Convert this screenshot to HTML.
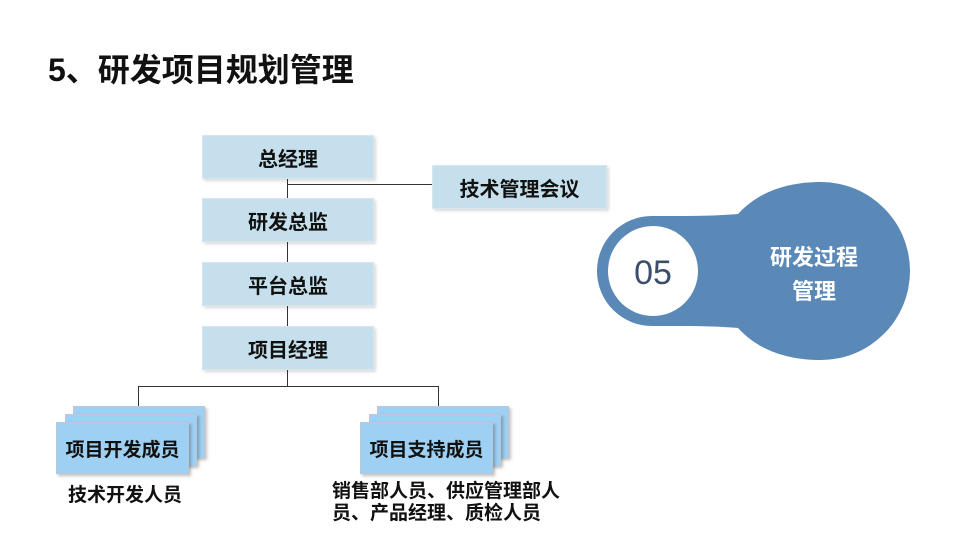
<!DOCTYPE html>
<html><head><meta charset="utf-8"><style>
body{margin:0;width:960px;height:540px;background:#fff;position:relative;overflow:hidden;font-family:"Liberation Sans","Noto Sans CJK SC",sans-serif}
.b{position:absolute;background:#c5e0ec;border:1px solid #d8e6ee;box-shadow:2px 2px 3px rgba(0,0,0,.15);display:flex;align-items:center;justify-content:center;font-weight:bold;font-size:20px;color:#111}
.s{position:absolute;background:#9dd0f2;border:1px solid #b9c8d4;box-shadow:2px 2px 3px rgba(0,0,0,.25);display:flex;align-items:center;justify-content:center;font-weight:bold;font-size:19px;color:#111}
.l{position:absolute;background:#333}
.t{position:absolute;font-weight:bold;font-size:19px;color:#111;line-height:22px}
</style></head><body>
<div class="t" style="left:48px;top:51px;font-size:32px;line-height:38px">5、研发项目规划管理</div>
<div class="l" style="left:287px;top:177px;width:1px;height:209px"></div>
<div class="l" style="left:287px;top:184px;width:146px;height:1px"></div>
<div class="l" style="left:138px;top:386px;width:301px;height:1px"></div>
<div class="l" style="left:138px;top:386px;width:1px;height:22px"></div>
<div class="l" style="left:438px;top:386px;width:1px;height:22px"></div>
<div class="b" style="left:202px;top:135px;width:170px;height:42px">总经理</div>
<div class="b" style="left:432px;top:165px;width:173px;height:42px">技术管理会议</div>
<div class="b" style="left:202px;top:198px;width:170px;height:42px">研发总监</div>
<div class="b" style="left:202px;top:262px;width:170px;height:42px">平台总监</div>
<div class="b" style="left:202px;top:326px;width:170px;height:42px">项目经理</div>
<div class="s" style="left:73px;top:406px;width:130px;height:50px"></div>
<div class="s" style="left:65px;top:414px;width:130px;height:50px"></div>
<div class="s" style="left:56px;top:422px;width:131px;height:50px">项目开发成员</div>
<div class="s" style="left:377px;top:406px;width:130px;height:50px"></div>
<div class="s" style="left:369px;top:414px;width:130px;height:50px"></div>
<div class="s" style="left:360px;top:422px;width:131px;height:50px">项目支持成员</div>
<div class="t" style="left:68px;top:485px">技术开发人员</div>
<div class="t" style="left:332px;top:481px">销售部人员、供应管理部人<br>员、产品经理、质检人员</div>
<svg style="position:absolute;left:0;top:0" width="960" height="540">
<path d="M652 216 C695 216 715 216 738 214 C758 192 787 182 821 182 A89 89 0 1 1 821 360 C787 360 758 350 738 328 C715 326 695 326 652 326 A55 55 0 1 1 652 216 Z" fill="#5b89b7"/>
<circle cx="653" cy="271" r="45" fill="#fff"/>
<text x="653" y="284" text-anchor="middle" font-size="34" fill="#3b4f6b" font-family="Liberation Sans">05</text>
<text x="814" y="265" text-anchor="middle" font-size="22" font-weight="bold" fill="#fff" font-family="Liberation Sans,Noto Sans CJK SC,sans-serif">研发过程</text>
<text x="814" y="299" text-anchor="middle" font-size="22" font-weight="bold" fill="#fff" font-family="Liberation Sans,Noto Sans CJK SC,sans-serif">管理</text>
</svg>
</body></html>
